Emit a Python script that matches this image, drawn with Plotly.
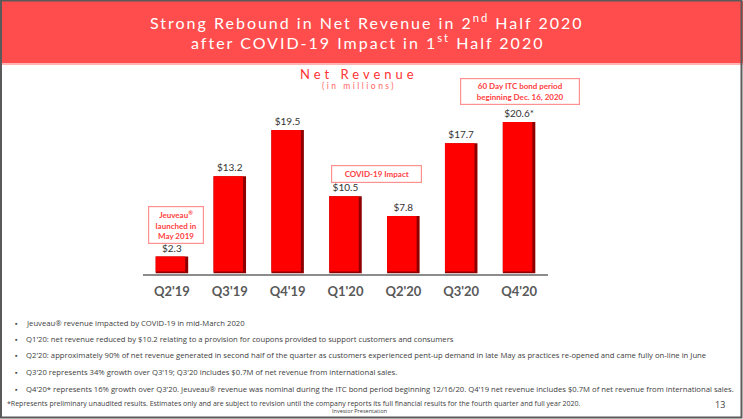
import plotly.graph_objects as go

W, H = 743, 419

quarters = ["Q2'19", "Q3'19", "Q4'19", "Q1'20", "Q2'20", "Q3'20", "Q4'20"]
revenue = [2.3, 13.2, 19.5, 10.5, 7.8, 17.7, 20.6]
value_labels = ["$2.3", "$13.2", "$19.5", "$10.5", "$7.8", "$17.7", "$20.6*"]

header_lines = [
    "Strong Rebound in Net Revenue in 2<sup>nd</sup> Half 2020",
    "after COVID-19 Impact in 1<sup>st</sup> Half 2020",
]
chart_title = "Net Revenue"
chart_subtitle = "(in millions)"
callouts = [
    "Jeuveau<sup>®</sup><br>launched in<br>May 2019",
    "COVID-19 Impact",
    "60 Day ITC bond period<br>beginning Dec. 16, 2020",
]
bullets = [
    "Jeuveau® revenue impacted by COVID-19 in mid-March 2020",
    "Q1'20: net revenue reduced by $10.2 relating to a provision for coupons provided to support customers and consumers",
    "Q2'20: approximately 90% of net revenue generated in second half of the quarter as customers experienced pent-up demand in late May as practices re-opened and came fully on-line in June",
    "Q3'20 represents 34% growth over Q3'19; Q3'20 includes $0.7M of net revenue from international sales.",
    "Q4'20* represents 16% growth over Q3'20. Jeuveau® revenue was nominal during the ITC bond period beginning 12/16/20. Q4'19 net revenue includes $0.7M of net revenue from international sales.",
]
footnote = "*Represents preliminary unaudited results. Estimates only and are subject to revision until the company reports its full financial results for the fourth quarter and full year 2020."
footer_center = "Investor Presentation"
page_number = "13"


def px(x):
    return x / W


def py(y):
    return 1 - y / H


base_y = 273.5
top_y = 70
scale = 7.36
cat_px = (548 - 143) / len(quarters)
bar_w = 32.5 / cat_px
edge_w = 3.0 / cat_px
edge_h = 2.0 / scale

fig = go.Figure()
# darker body giving the bevelled right/bottom edge
fig.add_trace(go.Bar(
    x=quarters, y=revenue, text=value_labels,
    textposition="outside", cliponaxis=False,
    textfont=dict(size=10, color="#333333", family="Lato"),
    width=bar_w, offset=-bar_w / 2,
    marker=dict(color="#8E0000", line=dict(width=0)),
    hoverinfo="skip",
))
# bright face
fig.add_trace(go.Bar(
    x=quarters, y=[v - edge_h for v in revenue], base=edge_h,
    width=bar_w - edge_w, offset=-bar_w / 2,
    marker=dict(color="#FF0000", line=dict(width=0)),
    hoverinfo="skip",
))

fig.update_layout(
    width=W, height=H,
    margin=dict(l=0, r=0, t=0, b=0),
    paper_bgcolor="white", plot_bgcolor="white",
    showlegend=False, barmode="overlay",
    xaxis=dict(domain=[px(143), px(548)], showline=True, linecolor="#8c8c8c",
               linewidth=1.5, ticks="", showgrid=False, zeroline=False,
               tickfont=dict(size=13, color="#595959", family="Lato"),
               tickprefix="<b>", ticksuffix="</b>", ticklabelstandoff=5,
               fixedrange=True),
    yaxis=dict(domain=[py(base_y), py(top_y)], range=[0, (base_y - top_y) / scale],
               visible=False, fixedrange=True),
)

shapes = []
shapes.append(dict(type="rect", xref="paper", yref="paper", x0=0, x1=1,
                   y0=py(63), y1=py(1), fillcolor="#FF4D4D", line=dict(width=0), layer="below"))
shapes.append(dict(type="rect", xref="paper", yref="paper", x0=0, x1=1,
                   y0=py(65), y1=py(63), fillcolor="#FFB3B3", line=dict(width=0), layer="below"))
shapes.append(dict(type="rect", xref="paper", yref="paper", x0=px(1), x1=px(741.5),
                   y0=py(417.5), y1=py(0.5), line=dict(color="#5a5a5a", width=2),
                   fillcolor="rgba(0,0,0,0)"))
fig.update_layout(shapes=shapes)

ann = []
for line, yy in zip(header_lines, [21, 41]):
    ann.append(dict(xref="paper", yref="paper", x=px(367), y=py(yy),
                    text=f'<span style="letter-spacing:2px">{line}</span>',
                    showarrow=False, font=dict(size=16, color="white", family="Lato"),
                    xanchor="center", yanchor="middle"))
ann.append(dict(xref="paper", yref="paper", x=px(359), y=py(74),
                text=f'<span style="letter-spacing:4px">{chart_title}</span>',
                showarrow=False, font=dict(size=13, color="#FF3333", family="Lato"),
                xanchor="center", yanchor="middle"))
ann.append(dict(xref="paper", yref="paper", x=px(359), y=py(86),
                text=f'<span style="letter-spacing:2.5px">{chart_subtitle}</span>',
                showarrow=False, font=dict(size=8.5, color="#FF6666", family="Lato"),
                xanchor="center", yanchor="middle"))

boxes = [(175.5, 224.7, 54, 36), (376.3, 174, 89, 16), (520, 91.7, 118, 25)]
for txt, (cx, cy, bw, bh) in zip(callouts, boxes):
    ann.append(dict(xref="paper", yref="paper", x=px(cx), y=py(cy),
                    text=f"<b>{txt}</b>", showarrow=False,
                    font=dict(size=8, color="#FF4040", family="Lato"),
                    bordercolor="#FF9090", borderwidth=1.2, borderpad=0,
                    width=bw, height=bh, xanchor="center", yanchor="middle", align="center"))

for txt, yy in zip(bullets, [323, 339, 355, 372, 389]):
    ann.append(dict(xref="paper", yref="paper", x=px(13), y=py(yy), text="▪",
                    showarrow=False, font=dict(size=7, color="#404040"),
                    xanchor="left", yanchor="middle"))
    ann.append(dict(xref="paper", yref="paper", x=px(24), y=py(yy), text=txt,
                    showarrow=False, font=dict(size=7.7, color="#404040", family="Open Sans"),
                    xanchor="left", yanchor="middle"))

ann.append(dict(xref="paper", yref="paper", x=px(5), y=py(403), text=footnote,
                showarrow=False, font=dict(size=7, color="#404040", family="Open Sans"),
                xanchor="left", yanchor="middle"))
ann.append(dict(xref="paper", yref="paper", x=px(359), y=py(410.5), text=footer_center,
                showarrow=False, font=dict(size=5.5, color="#404040", family="Open Sans"),
                xanchor="center", yanchor="middle"))
ann.append(dict(xref="paper", yref="paper", x=px(720), y=py(404), text=page_number,
                showarrow=False, font=dict(size=9, color="#404040", family="Open Sans"),
                xanchor="center", yanchor="middle"))
fig.update_layout(annotations=ann)

fig.write_html("out.html", config={"displayModeBar": False})
